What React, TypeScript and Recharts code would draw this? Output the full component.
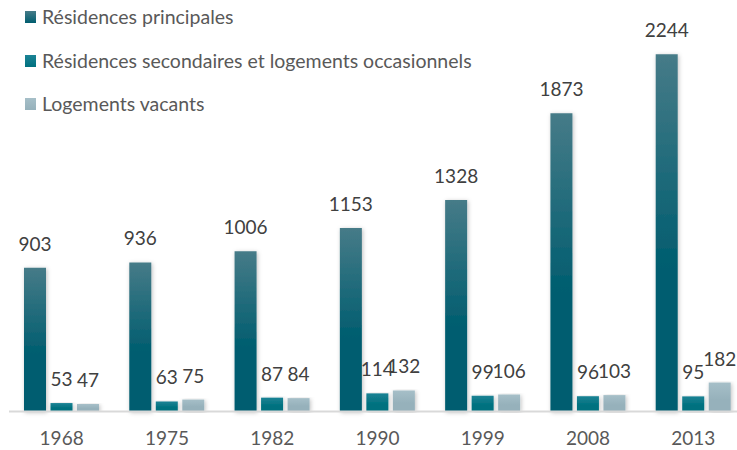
import { BarChart, Bar, XAxis, YAxis, Legend, LabelList } from "recharts";

const years = ["1968", "1975", "1982", "1990", "1999", "2008", "2013"];
const principales = [903, 936, 1006, 1153, 1328, 1873, 2244];
const secondaires = [53, 63, 87, 114, 99, 96, 95];
const vacants = [47, 75, 84, 132, 106, 103, 182];

const data = years.map((year, i) => ({
  year,
  principales: principales[i],
  secondaires: secondaires[i],
  vacants: vacants[i],
}));

const series = [
  { key: "principales", name: "Résidences principales", grad: "gPrin", top: "#467b88", bottom: "#005d6f" },
  { key: "secondaires", name: "Résidences secondaires et logements occasionnels", grad: "gSec", top: "#1c8395", bottom: "#00717f" },
  { key: "vacants", name: "Logements vacants", grad: "gVac", top: "#a6bfc8", bottom: "#96b1bb" },
];

const font = "Lato, 'Open Sans', sans-serif";

function LegendBox() {
  return (
    <div style={{ fontFamily: font, fontSize: 19.5, color: "#595959" }}>
      {series.map((s, i) => (
        <div key={s.key} style={{ position: "absolute", left: 25, top: 5 + i * 43.5, display: "flex", alignItems: "center", whiteSpace: "nowrap", lineHeight: "24px" }}>
          <span style={{ display: "inline-block", width: 11, height: 12, marginRight: 6, background: `linear-gradient(${s.top}, ${s.bottom})` }} />
          <span>{s.name}</span>
        </div>
      ))}
    </div>
  );
}

function YearTick({ x, payload }: any) {
  return (
    <text x={x} y={445} textAnchor="middle" fill="#595959" fontSize={19} fontFamily={font}>
      {payload.value}
    </text>
  );
}

function ValueLabel({ x, y, width, value }: any) {
  return (
    <text x={x + width / 2} y={y - 17} textAnchor="middle" fill="#404040" fontSize={19} fontFamily={font}>
      {value}
    </text>
  );
}

export default function App() {
  return (
    <div style={{ position: "absolute", left: 0, top: 0, width: 737, height: 450, overflow: "hidden", background: "#fff" }}>
      <BarChart
        width={746}
        height={450}
        data={data}
        margin={{ top: 13.5, right: 0, left: 9, bottom: 0 }}
        barGap={4.5}
        barCategoryGap={15}
      >
        <defs>
          {series.map((s) => (
            <linearGradient key={s.grad} id={s.grad} x1="0" y1="0" x2="0" y2="1">
              <stop offset="0%" stopColor={s.top} />
              <stop offset="60%" stopColor={s.bottom} />
              <stop offset="100%" stopColor={s.bottom} />
            </linearGradient>
          ))}
          <filter id="shadow" x="-30%" y="-5%" width="160%" height="110%">
            <feDropShadow dx="1" dy="1" stdDeviation="2" floodColor="#000" floodOpacity="0.25" />
          </filter>
        </defs>
        <XAxis
          dataKey="year"
          height={38.5}
          axisLine={{ stroke: "#d9d9d9", strokeWidth: 2 }}
          tickLine={false}
          tick={<YearTick />}
        />
        <YAxis hide width={0} domain={[0, 2500]} />
        <Legend verticalAlign="top" content={() => null} />
        {series.map((s) => (
          <Bar
            key={s.key}
            dataKey={s.key}
            name={s.name}
            fill={`url(#${s.grad})`}
            style={{ filter: "url(#shadow)" }}
            isAnimationActive={false}
          >
            <LabelList dataKey={s.key} content={<ValueLabel />} />
          </Bar>
        ))}
      </BarChart>
      <LegendBox />
    </div>
  );
}
